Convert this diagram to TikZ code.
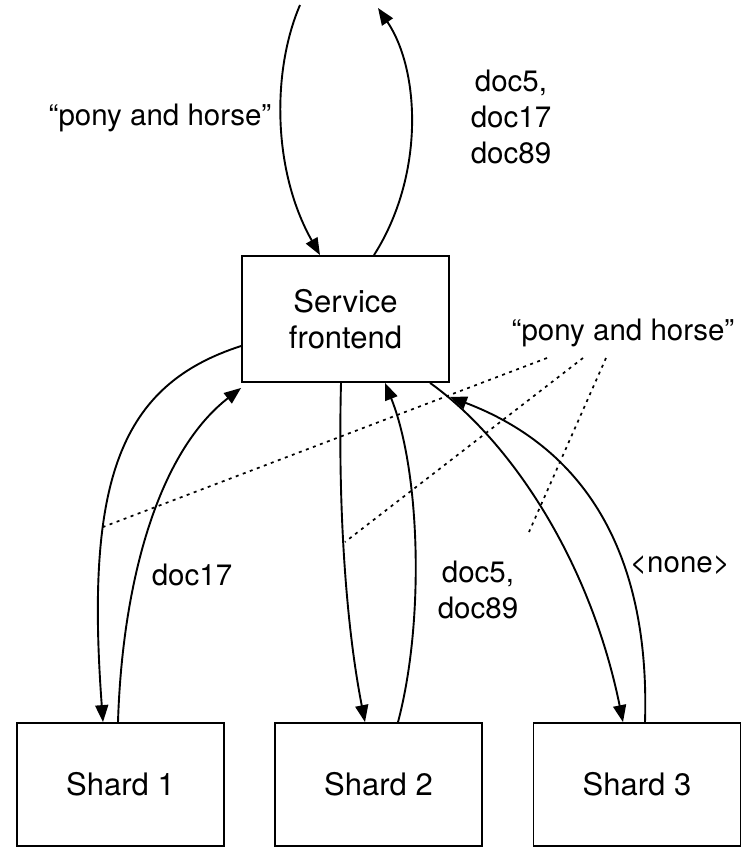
\documentclass[tikz,border=0pt]{standalone}
\usepackage{fontspec}
\setmainfont{TeX Gyre Heros}
\usetikzlibrary{arrows.meta}
\begin{document}
\begin{tikzpicture}[x=1pt,y=-1pt,
  box/.style={draw,line width=1.8pt,minimum width=207pt,inner sep=0pt,
    align=center,font=\fontsize{31}{36}\selectfont},
  lbl/.style={align=center,inner sep=0pt,font=\fontsize{29.5}{36}\selectfont},
  flow/.style={line width=1.9pt,-{Triangle[length=17pt,width=13pt]}},
  hint/.style={line width=1.7pt,dash pattern=on 3pt off 4.5pt}]
\useasboundingbox (0,0) rectangle (749,851);

% boxes
\node[box,minimum height=126pt] (sf) at (345.5,319) {Service\\frontend};
\node[box,minimum height=123pt] (s1) at (120.5,784.5) {Shard 1};
\node[box,minimum height=123pt] (s2) at (378.5,784.5) {Shard 2};
\node[box,minimum height=123pt] (s3) at (637,784.5) {Shard 3};

% free ends of the client request and reply
\coordinate (cin) at (300,5);
\coordinate (cout) at (378,8);

% client traffic
\draw[flow] (cin) .. controls (272,70) and (272,170) .. ([xshift=-25.5pt]sf.north);
\draw[flow] ([xshift=28.5pt]sf.north) .. controls (425,175) and (420,70) .. (cout);

% query fan-out and replies
\draw[flow] ([yshift=-27pt]sf.west) .. controls (120,385) and (85,480) .. ([xshift=-17.5pt]s1.north);
\draw[flow] ([xshift=-2.5pt]s1.north) .. controls (122,590) and (155,455) .. ([yshift=-5pt]sf.south west);
\draw[flow] ([xshift=-4.5pt]sf.south) .. controls (338,500) and (345,620) .. ([xshift=-13.5pt]s2.north);
\draw[flow] ([xshift=19.5pt]s2.north) .. controls (425,620) and (420,470) .. ([xshift=39.5pt]sf.south);
\draw[flow] ([xshift=84.5pt]sf.south) .. controls (510,440) and (590,560) .. ([xshift=-14pt]s3.north);
\draw[flow] ([xshift=8pt]s3.north) .. controls (650,560) and (590,450) .. ([yshift=-14pt]sf.south east);

% labels
\node[lbl] (q1) at (160,118) {“pony and horse”};
\node[lbl] (r1) at (511,117) {doc5,\\doc17\\doc89};
\node[lbl] (q2) at (623,333) {“pony and horse”};
\node[lbl] (d17) at (192,575) {doc17};
\node[lbl] (d589) at (478,590) {doc5,\\doc89};
\node[lbl] (none) at (680,565) {<none>};

% dotted pointers from the query label to the fan-out arrows
\coordinate (h1a) at (547,358);
\coordinate (h1b) at (103,527);
\coordinate (h2a) at (583,358);
\coordinate (h2b) at (345,542);
\coordinate (h3a) at (606,358);
\coordinate (h3b) at (529,532);
\draw[hint] (h1a) -- (h1b);
\draw[hint] (h2a) -- (h2b);
\draw[hint] (h3a) -- (h3b);
\end{tikzpicture}
\end{document}
